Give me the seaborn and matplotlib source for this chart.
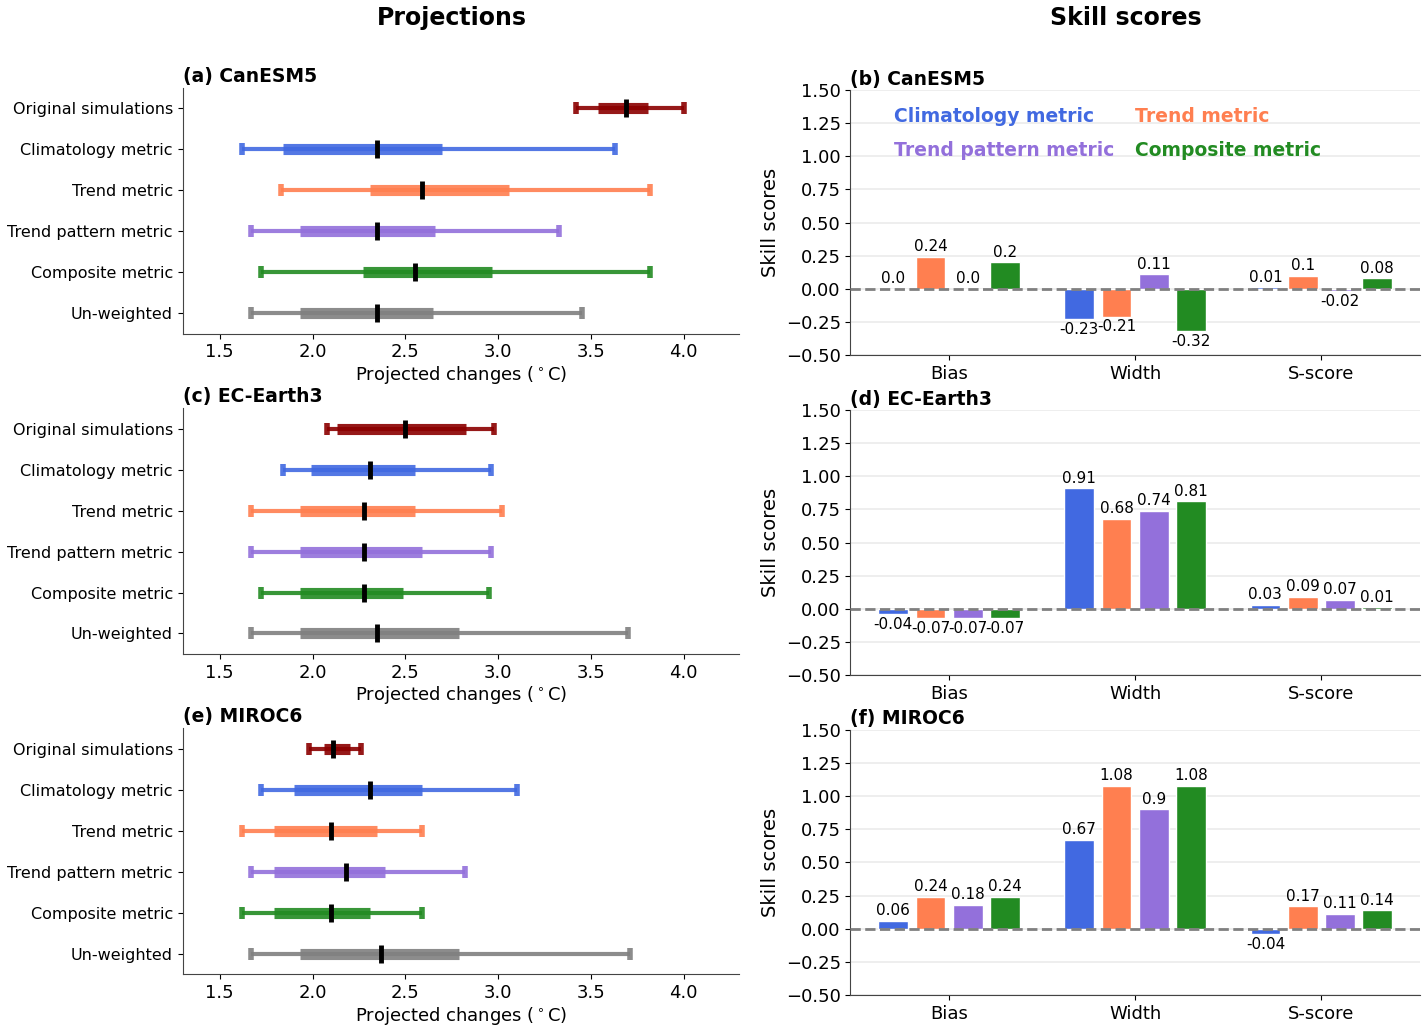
import matplotlib
matplotlib.use('Agg')
import matplotlib.pyplot as plt
import seaborn as sns
import numpy as np
import pandas as pd

# ---- data ----
rows = ['Original simulations', 'Climatology metric', 'Trend metric',
        'Trend pattern metric', 'Composite metric', 'Un-weighted']
row_colors = ['darkred', 'royalblue', 'coral', 'mediumpurple', 'forestgreen', 'gray']

models = ['CanESM5', 'EC-Earth3', 'MIROC6']

# projected changes (degC): min, q1, median, q3, max per row
canesm5_min = [3.42, 1.62, 1.83, 1.67, 1.72, 1.67]
canesm5_q1 = [3.54, 1.84, 2.31, 1.93, 2.27, 1.93]
canesm5_med = [3.69, 2.35, 2.59, 2.35, 2.55, 2.35]
canesm5_q3 = [3.81, 2.70, 3.06, 2.66, 2.97, 2.65]
canesm5_max = [4.00, 3.63, 3.82, 3.33, 3.82, 3.45]

ecearth3_min = [2.08, 1.84, 1.67, 1.67, 1.72, 1.67]
ecearth3_q1 = [2.13, 1.99, 1.93, 1.93, 1.93, 1.93]
ecearth3_med = [2.50, 2.31, 2.28, 2.28, 2.28, 2.35]
ecearth3_q3 = [2.83, 2.55, 2.55, 2.59, 2.49, 2.79]
ecearth3_max = [2.98, 2.96, 3.02, 2.96, 2.95, 3.70]

miroc6_min = [1.98, 1.72, 1.62, 1.67, 1.62, 1.67]
miroc6_q1 = [2.06, 1.90, 1.79, 1.79, 1.79, 1.93]
miroc6_med = [2.11, 2.31, 2.10, 2.18, 2.10, 2.37]
miroc6_q3 = [2.20, 2.59, 2.35, 2.39, 2.31, 2.79]
miroc6_max = [2.26, 3.10, 2.59, 2.82, 2.59, 3.71]

# skill scores
metrics = ['Climatology metric', 'Trend metric', 'Trend pattern metric', 'Composite metric']
metric_colors = ['royalblue', 'coral', 'mediumpurple', 'forestgreen']
scores = ['Bias', 'Width', 'S-score']

canesm5_bias = [0.0, 0.24, 0.0, 0.2]
canesm5_width = [-0.23, -0.21, 0.11, -0.32]
canesm5_sscore = [0.01, 0.1, -0.02, 0.08]

ecearth3_bias = [-0.04, -0.07, -0.07, -0.07]
ecearth3_width = [0.91, 0.68, 0.74, 0.81]
ecearth3_sscore = [0.03, 0.09, 0.07, 0.01]

miroc6_bias = [0.06, 0.24, 0.18, 0.24]
miroc6_width = [0.67, 1.08, 0.9, 1.08]
miroc6_sscore = [-0.04, 0.17, 0.11, 0.14]

proj = [
    (canesm5_min, canesm5_q1, canesm5_med, canesm5_q3, canesm5_max),
    (ecearth3_min, ecearth3_q1, ecearth3_med, ecearth3_q3, ecearth3_max),
    (miroc6_min, miroc6_q1, miroc6_med, miroc6_q3, miroc6_max),
]
skill = [
    (canesm5_bias, canesm5_width, canesm5_sscore),
    (ecearth3_bias, ecearth3_width, ecearth3_sscore),
    (miroc6_bias, miroc6_width, miroc6_sscore),
]

sns.set_style('ticks')
plt.rcParams['font.family'] = ['DejaVu Sans']
plt.rcParams.update({
    'text.color': 'black', 'axes.labelcolor': 'black',
    'xtick.color': 'black', 'ytick.color': 'black',
    'axes.edgecolor': '#444444',
})

fig = plt.figure(figsize=(14.27, 10.27), dpi=100)

fig.text(0.317, 0.982, 'Projections', ha='center', va='center', fontsize=17, fontweight='bold')
fig.text(0.789, 0.982, 'Skill scores', ha='center', va='center', fontsize=17, fontweight='bold')

left_bottoms = [0.675, 0.3632, 0.0516]
right_bottoms = [0.6543, 0.3427, 0.0312]
left_letters = ['a', 'c', 'e']
right_letters = ['b', 'd', 'f']

for i, model in enumerate(models):
    # ---- projections panel ----
    ax = fig.add_axes([0.128, left_bottoms[i], 0.390, 0.2395])
    lo, q1, med, q3, hi = proj[i]
    ypos = np.arange(len(rows))
    for y, a, b, m, c, d, col in zip(ypos, lo, q1, med, q3, hi, row_colors):
        ax.hlines(y, a, d, color=col, lw=3, alpha=0.9, zorder=2)
        ax.hlines(y, b, c, color=col, lw=8, alpha=0.9, zorder=3)
        ax.plot([a, d], [y, y], ls='none', marker='|', ms=9, mew=4, color=col, alpha=0.9, zorder=3)
        ax.plot([m], [y], ls='none', marker='|', ms=13, mew=3.5, color='black', zorder=4)
    ax.set_yticks(ypos)
    ax.set_yticklabels(rows, fontsize=11.5)
    ax.set_ylim(len(rows) - 0.5, -0.5)
    ax.set_xlim(1.3, 4.3)
    ax.set_xticks([1.5, 2.0, 2.5, 3.0, 3.5, 4.0])
    ax.tick_params(axis='x', labelsize=13)
    ax.set_xlabel(r'Projected changes ($^\circ$C)', fontsize=13, labelpad=2)
    ax.set_title(f'({left_letters[i]}) {model}', loc='left', fontsize=13.5,
                 fontweight='bold', pad=4)
    sns.despine(ax=ax)

    # ---- skill score panel ----
    bx = fig.add_axes([0.596, right_bottoms[i], 0.399, 0.258])
    bias, width, sscore = skill[i]
    df = pd.DataFrame({
        'score': np.repeat(scores, len(metrics)),
        'metric': metrics * len(scores),
        'value': list(bias) + list(width) + list(sscore),
    })
    sns.barplot(data=df, x='score', y='value', hue='metric', hue_order=metrics,
                palette=metric_colors, width=0.8, gap=0.2, saturation=1,
                edgecolor='white', linewidth=1, legend=False, ax=bx, zorder=3)
    bx.axhline(0, color='gray', ls='--', lw=2, zorder=4)
    bx.yaxis.grid(True, color='#ebebeb', lw=1.2, zorder=0)
    bx.set_axisbelow(True)
    bx.set_ylim(-0.5, 1.5)
    bx.set_yticks(np.arange(-0.5, 1.51, 0.25))
    bx.set_xlim(-0.53, 2.53)
    bx.tick_params(axis='both', labelsize=13)
    bx.set_xlabel('')
    bx.set_ylabel('Skill scores', fontsize=14)
    bx.set_title(f'({right_letters[i]}) {model}', loc='left', fontsize=13.5,
                 fontweight='bold', pad=4)
    sns.despine(ax=bx)

    for container, vals in zip(bx.containers, zip(bias, width, sscore)):
        for bar, v in zip(container, vals):
            tx = bar.get_x() + bar.get_width() / 2
            if v >= 0:
                bx.text(tx, v + 0.02, str(round(v, 2)), ha='center', va='bottom', fontsize=11)
            else:
                bx.text(tx, v - 0.02, str(round(v, 2)), ha='center', va='top', fontsize=11)

    if i == 0:
        for k, (name, col) in enumerate(zip(metrics, metric_colors)):
            tx = 0.077 if k % 2 == 0 else 0.50
            ty = 0.90 if k < 2 else 0.772
            bx.text(tx, ty, name, color=col, fontsize=13.5, fontweight='bold',
                    transform=bx.transAxes, ha='left', va='center')

fig.savefig('out.png', dpi=100)
